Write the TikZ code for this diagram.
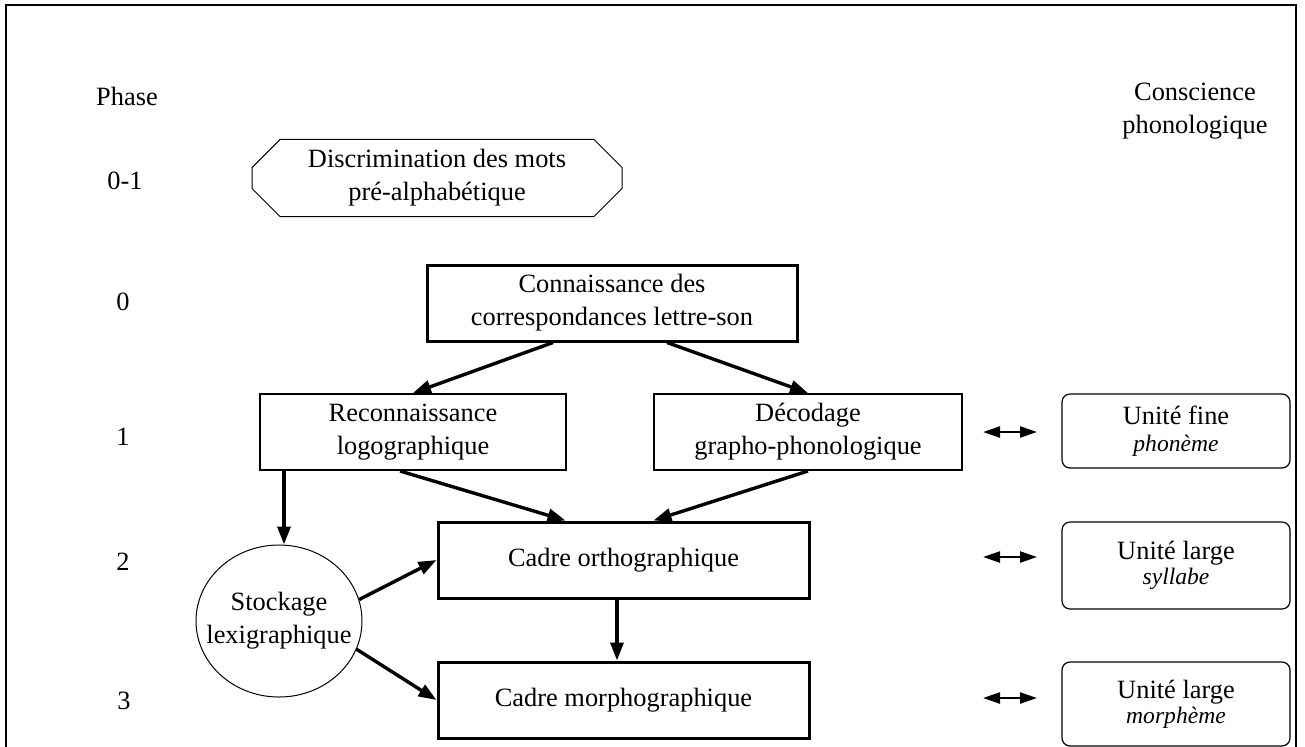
\documentclass[tikz,border=0pt]{standalone}
\usepackage{fontspec}
\setmainfont{Liberation Serif}
\usetikzlibrary{positioning}
\usetikzlibrary{arrows.meta}
\usetikzlibrary{shapes.geometric}
\usetikzlibrary{shapes.misc}

\newcommand{\sousunite}[1]{{\fontsize{11.8}{12}\selectfont\itshape #1}}

\begin{document}
\begin{tikzpicture}[x=0.5pt,y=-0.5pt,font=\fontsize{13.2}{16.5}\selectfont]
\useasboundingbox (0,0) rectangle (1305,746);
\draw[line width=1pt] (6,750) -- (6,5) -- (1296,5) -- (1296,750);

% phases
\begin{scope}[every node/.style={align=center}]
   \node (phase) at (127,96) {Phase};
   \node (p01) at (125,181) {0-1};
   \node (p0) at (123,302) {0};
   \node (p1) at (123,437) {1};
   \node (p2) at (123,562) {2};
   \node (p3) at (124,701) {3};
   \node (consc) at (1195,111) {Conscience\\phonologique};
\end{scope}

% stades
\begin{scope}[every node/.style={draw,align=center,inner sep=2pt}]
   \node[chamfered rectangle, chamfered rectangle xsep=11pt, line width=0.5pt,
         minimum width=185pt, minimum height=38.5pt] (discr) at (437,178) {Discrimination des mots\\pré-alphabétique};
   \node[line width=1.5pt, minimum width=185pt, minimum height=38pt] (conn) at (612,303) {Connaissance des\\correspondances lettre-son};
   \node[line width=1pt, minimum width=153pt, minimum height=38pt] (recon) at (413,432) {Reconnaissance\\logographique};
   \node[line width=1pt, minimum width=154pt, minimum height=38pt] (decod) at (808,432) {Décodage\\grapho-phonologique};
   \node[line width=1.5pt, minimum width=185.5pt, minimum height=38pt] (ortho) at (623.5,560) {Cadre orthographique};
   \node[line width=1.5pt, minimum width=185.5pt, minimum height=38pt] (morpho) at (623.5,700) {Cadre morphographique};
   \node[ellipse, line width=0.5pt, minimum width=83pt, minimum height=76pt,
         inner xsep=-10pt, inner ysep=0pt] (stock) at (279,621) {Stockage\\lexigraphique};

   \node[rounded corners=4pt, line width=0.6pt, minimum width=114pt, minimum height=37pt] (fine) at (1176,431) {Unité fine\\[-3pt]\sousunite{phonème}};
   \node[rounded corners=4pt, line width=0.6pt, minimum width=114pt, minimum height=43.5pt] (syl) at (1176,565.5) {Unité large\\[-4pt]\sousunite{syllabe}};
   \node[rounded corners=4pt, line width=0.6pt, minimum width=114pt, minimum height=42pt] (morph) at (1176,704) {Unité large\\[-4pt]\sousunite{morphème}};
\end{scope}

\coordinate (g1) at (983,432);
\coordinate (d1) at (1037,432);
\coordinate (g2) at (983,557);
\coordinate (d2) at (1037,557);
\coordinate (g3) at (983,698);
\coordinate (d3) at (1037,698);

\begin{scope}[every edge/.style={draw,line width=1.7pt,-{Triangle[length=9pt,width=6.5pt]}}]
   \path ([xshift=-29.5pt]conn.south) edge (recon.north);
   \path ([xshift=27.5pt]conn.south) edge (decod.north);

   \path ([xshift=-6.5pt]recon.south) edge ([xshift=-29pt]ortho.north);
   \path (decod.south) edge ([xshift=15pt]ortho.north);
   \path ([xshift=12.5pt]recon.south west) edge ([xshift=12.5pt]recon.south west |- stock.north);

   \path (stock.15) edge (ortho.west);
   \path (stock.-20) edge (morpho.west);
   \path ([xshift=-3.25pt]ortho.south) edge ([xshift=-3.25pt]morpho.north);
\end{scope}

\begin{scope}[every edge/.style={draw,line width=1.2pt,{Triangle[length=8.5pt,width=5.5pt]}-{Triangle[length=8.5pt,width=5.5pt]}}]
   \path (g1) edge (d1);
   \path (g2) edge (d2);
   \path (g3) edge (d3);
\end{scope}
\end{tikzpicture}
\end{document}
